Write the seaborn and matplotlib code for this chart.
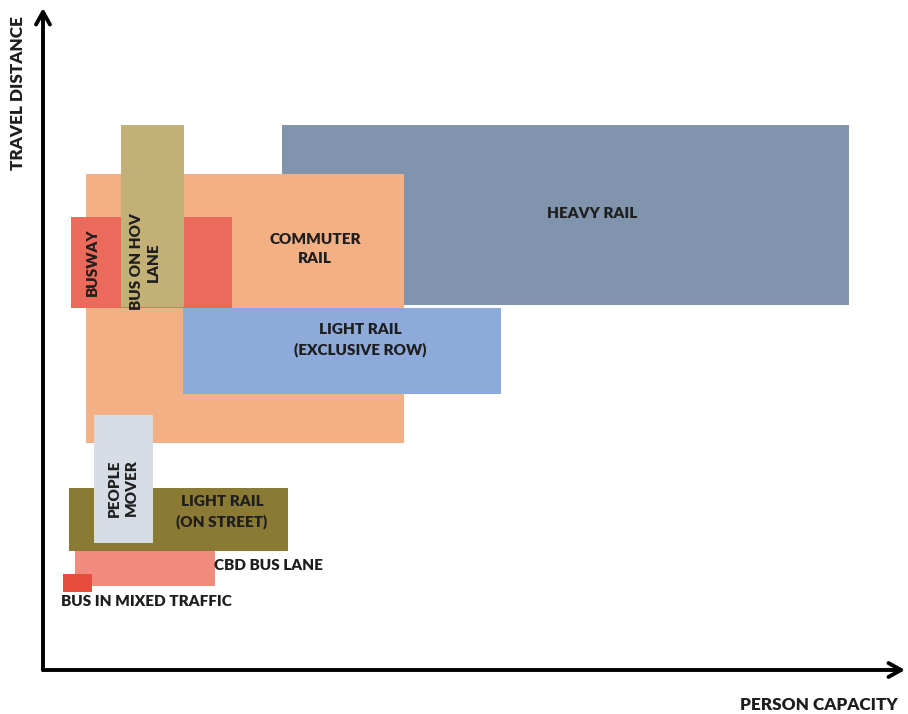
import numpy as np
import matplotlib
matplotlib.use('Agg')
import matplotlib.pyplot as plt
import seaborn as sns
sns.set_style('white')
plt.rcParams['font.family'] = ['Lato', 'DejaVu Sans']

# modes, drawn back to front: capacity range (x) and travel distance range (y), arbitrary units
modes = ['HEAVY RAIL', 'COMMUTER\nRAIL', 'BUSWAY', 'BUS ON HOV\nLANE', 'LIGHT RAIL\n(EXCLUSIVE ROW)',
         'LIGHT RAIL\n(ON STREET)', 'PEOPLE\nMOVER', 'CBD BUS LANE', 'BUS IN MIXED TRAFFIC']
cap_lo = [239, 43, 28, 78, 140, 26, 51, 32, 20]
cap_hi = [806, 361, 189, 141, 458, 245, 110, 172, 49]
dist_lo = [365, 227, 362, 363, 276, 119, 127, 84, 78]
dist_hi = [545, 496, 453, 545, 362, 182, 255, 119, 96]
colors = ['#8094ae', '#f3b084', '#ec6a5c', '#c2b076', '#8eaadb',
          '#8b7a34', '#d6dce4', '#f08b7d', '#e74c3c']

fig = plt.figure(figsize=(9.08, 7.14), dpi=100)
ax = fig.add_axes([43 / 908, 44 / 714, 862 / 908, 662 / 714])

for i, m in enumerate(modes):
    ax.bar(cap_lo[i], dist_hi[i] - dist_lo[i], width=cap_hi[i] - cap_lo[i], bottom=dist_lo[i],
           align='edge', color=colors[i], linewidth=0, zorder=2 + i)

tc = '#1e1e1e'
fw = 'heavy'
fs = 11
# labels inside / beside the boxes
ax.text(592 - 43, 670 - 213, modes[0], ha='center', va='center', fontsize=fs, weight=fw, color=tc, zorder=20)
ax.text(315 - 43, 670 - 249, modes[1], ha='center', va='center', fontsize=fs, weight=fw, color=tc,
        linespacing=1.5, zorder=20)
ax.text(92 - 43, 670 - 262, modes[2], ha='center', va='center', rotation=90, fontsize=fs, weight=fw,
        color=tc, zorder=20)
ax.text(145 - 43, 670 - 262, modes[3], ha='center', va='center', rotation=90, fontsize=fs, weight=fw,
        color=tc, linespacing=1.3, zorder=20)
ax.text(360 - 43, 670 - 340, modes[4], ha='center', va='center', fontsize=fs, weight=fw, color=tc,
        linespacing=1.5, zorder=20)
ax.text(222 - 43, 670 - 512, modes[5], ha='center', va='center', fontsize=fs, weight=fw, color=tc,
        linespacing=1.5, zorder=20)
ax.text(123 - 43, 670 - 488, modes[6], ha='center', va='center', rotation=90, fontsize=fs, weight=fw,
        color=tc, linespacing=1.3, zorder=20)
ax.text(214 - 43, 670 - 566, modes[7], ha='left', va='center', fontsize=fs, weight=fw, color=tc, zorder=20)
ax.text(61 - 43, 670 - 602, modes[8], ha='left', va='center', fontsize=fs, weight=fw, color=tc, zorder=20)

ax.set_xlim(0, 862)
ax.set_ylim(0, 662)
ax.set_xticks([])
ax.set_yticks([])
for s in ax.spines.values():
    s.set_visible(False)

# axis arrows
arw = dict(arrowstyle='->,head_length=0.9,head_width=0.5', lw=2.8, color='black', shrinkA=0, shrinkB=0)
ax.annotate('', xy=(1, 0), xytext=(0, 0), xycoords='axes fraction', arrowprops=arw, annotation_clip=False)
ax.annotate('', xy=(0, 1), xytext=(0, 0), xycoords='axes fraction', arrowprops=arw, annotation_clip=False)

fig.text(18 / 908, 1 - 93 / 714, 'TRAVEL DISTANCE', rotation=90, ha='center', va='center',
         fontsize=12.3, weight=fw, color=tc)
fig.text(898 / 908, 1 - 705 / 714, 'PERSON CAPACITY', ha='right', va='center',
         fontsize=12.3, weight=fw, color=tc)

plt.savefig('out.png', dpi=100)
